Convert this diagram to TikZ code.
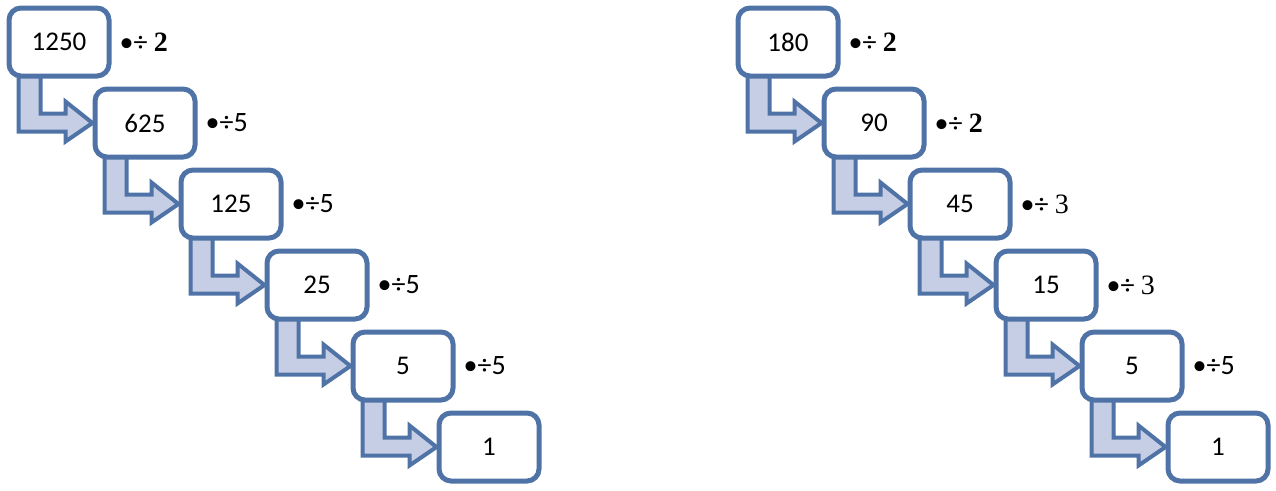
\documentclass[tikz,border=0pt]{standalone}
\usepackage{fontspec}
\setmainfont{Carlito}
\newfontfamily\serifnum{Liberation Serif}
\usetikzlibrary{positioning,calc,backgrounds}
\definecolor{boxblue}{RGB}{79,115,166}
\definecolor{arrowfill}{RGB}{198,206,230}

\begin{document}
\begin{tikzpicture}[x=1pt,y=1pt,node distance=81pt and 86pt,on grid,
	numbox/.style={draw=boxblue,line width=5pt,fill=white,rounded corners=12pt,
		minimum width=100pt,minimum height=68pt,font=\fontsize{27}{30}\selectfont},
	divlbl/.style={anchor=west,inner sep=0pt,font=\fontsize{28}{31}\selectfont},
	elbow/.style={draw=boxblue,line width=4pt,fill=arrowfill,line join=miter}]
	
	\useasboundingbox (0,0) rectangle (1276,-490);
	
	% left chain
	\node[numbox] (l1) at (59,-42) {1250};
	\node[numbox] (l2) [below right=of l1] {625};
	\node[numbox] (l3) [below right=of l2] {125};
	\node[numbox] (l4) [below right=of l3] {25};
	\node[numbox] (l5) [below right=of l4] {5};
	\node[numbox] (l6) [below right=of l5] {1};
	
	% right chain
	\node[numbox] (r1) at (788,-42) {180};
	\node[numbox] (r2) [below right=of r1] {90};
	\node[numbox] (r3) [below right=of r2] {45};
	\node[numbox] (r4) [below right=of r3] {15};
	\node[numbox] (r5) [below right=of r4] {5};
	\node[numbox] (r6) [below right=of r5] {1};
	
	% divisors
	\node[divlbl] (dl1) at ([xshift=8pt]l1.east) {•÷ {\serifnum\bfseries 2}};
	\node[divlbl] (dl2) at ([xshift=8pt]l2.east) {•÷5};
	\node[divlbl] (dl3) at ([xshift=8pt]l3.east) {•÷5};
	\node[divlbl] (dl4) at ([xshift=8pt]l4.east) {•÷5};
	\node[divlbl] (dl5) at ([xshift=8pt]l5.east) {•÷5};
	
	\node[divlbl] (dr1) at ([xshift=8pt]r1.east) {•÷ {\serifnum\bfseries 2}};
	\node[divlbl] (dr2) at ([xshift=8pt]r2.east) {•÷ {\serifnum\bfseries 2}};
	\node[divlbl] (dr3) at ([xshift=8pt]r3.east) {•÷ {\serifnum 3}};
	\node[divlbl] (dr4) at ([xshift=8pt]r4.east) {•÷ {\serifnum 3}};
	\node[divlbl] (dr5) at ([xshift=8pt]r5.east) {•÷5};
	
	% elbow arrows behind the boxes
	\begin{scope}[on background layer]
		\foreach \a/\b in {l1/l2,l2/l3,l3/l4,l4/l5,l5/l6,r1/r2,r2/r3,r3/r4,r4/r5,r5/r6}
		\draw[elbow] ($(\a.south west)+(12,4)$) -- ($(\a.south west)+(12,-53)$)
			-- ($(\a.south west)+(59,-53)$) -- ($(\a.south west)+(59,-63)$)
			-- (\b.west) -- ($(\a.south west)+(59,-23)$)
			-- ($(\a.south west)+(59,-35)$) -- ($(\a.south west)+(34,-35)$)
			-- ($(\a.south west)+(34,4)$) -- cycle;
	\end{scope}
\end{tikzpicture}
\end{document}
